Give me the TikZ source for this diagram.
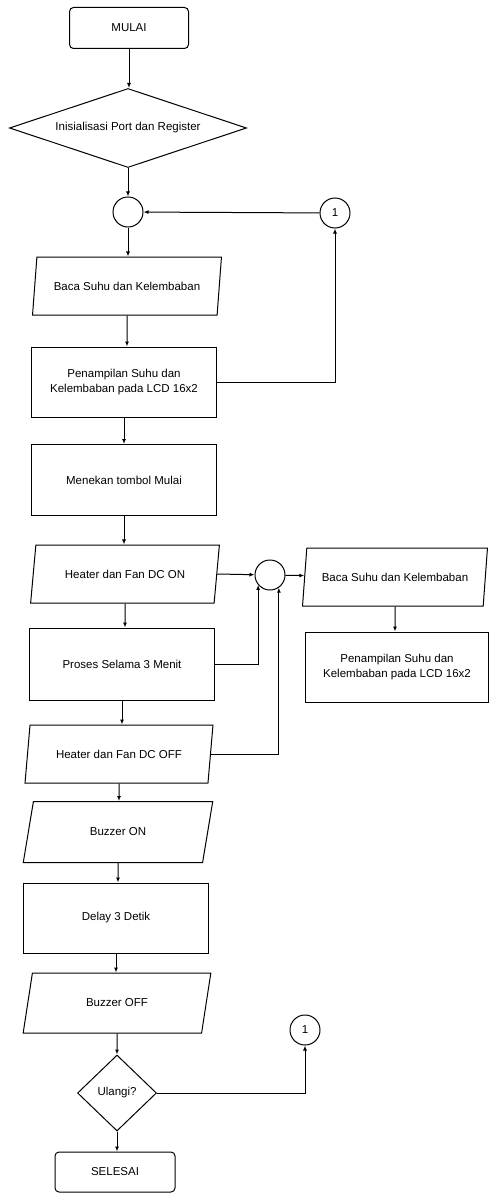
\documentclass[tikz,border=0pt]{standalone}
\usepackage{fontspec}
\setmainfont{Liberation Sans}
\usetikzlibrary{shapes.geometric,arrows.meta}

\tikzset{
  base/.style={draw,line width=1pt,align=center,inner sep=1pt,font=\fontsize{11.5}{15}\selectfont},
  terminal/.style={base,rectangle,rounded corners=4pt,minimum width=119,minimum height=41},
  process/.style={base,rectangle,minimum width=185,minimum height=70},
  io/.style={base,trapezium,trapezium left angle=71,trapezium right angle=109,
    trapezium stretches=true,minimum width=189,minimum height=58},
  decision/.style={base,diamond,inner sep=0pt,label={[font=\fontsize{11.5}{15}\selectfont]center:#1}},
  joint/.style={base,circle,minimum size=30,inner sep=0pt},
  arr/.style={line width=1pt,-{Latex[length=5pt,width=4pt]}}
}

\begin{document}
\begin{tikzpicture}[x=1pt,y=-1pt]
\useasboundingbox (0,0) rectangle (488,1193);

% main column
\node[terminal] (mulai) at (129,28) {MULAI};
\node[decision={Inisialisasi Port dan Register},minimum width=237,minimum height=79] (init) at (128,128) {};
\node[joint] (j1) at (128,212) {};
\node[joint] (c1) at (335,213) {1};
\node[io] (baca) at (127,286) {Baca Suhu dan Kelembaban};
\node[process] (tampil) at (124,382) {Penampilan Suhu dan\\Kelembaban pada LCD 16x2};
\node[process,minimum height=71] (tekan) at (124,480) {Menekan tombol Mulai};
\node[io] (heaton) at (125,574) {Heater dan Fan DC ON};
\node[process,minimum height=72] (proses) at (122,664) {Proses Selama 3 Menit};
\node[io,minimum width=188] (heatoff) at (119,754) {Heater dan Fan DC OFF};
\node[io,minimum width=190,minimum height=61] (buzon) at (118,832) {Buzzer ON};
\node[process] (delay) at (116,918) {Delay 3 Detik};
\node[io,minimum height=60] (buzoff) at (117,1003) {Buzzer OFF};
\node[decision={Ulangi?},minimum width=79,minimum height=76] (ulangi) at (117,1093) {};
\node[joint] (c2) at (305,1030) {1};
\node[terminal,minimum width=120,minimum height=40] (selesai) at (115,1172) {SELESAI};

% side branch
\node[joint] (j2) at (270,575) {};
\node[io,minimum width=185] (baca2) at (395,577) {Baca Suhu dan Kelembaban};
\node[process,minimum width=183] (tampil2) at (397,667) {Penampilan Suhu dan\\Kelembaban pada LCD 16x2};

% straight arrows
\foreach \a/\b in {mulai/init,init/j1,j1/baca,baca/tampil,tampil/tekan,tekan/heaton,
  heaton/proses,proses/heatoff,heatoff/buzon,buzon/delay,delay/buzoff,buzoff/ulangi,
  ulangi/selesai,baca2/tampil2}
  \draw[arr] (\a) -- (\a |- \b.north);

\draw[arr] (c1) -- (j1);
\draw[arr] (tampil.east) -| (c1);
\draw[arr] (heaton.east) -- (j2);
\draw[arr] (j2) -- (baca2);
\draw[arr] (proses.east) -| (j2.220);
\draw[arr] (heatoff.east) -| (j2.305);
\draw[arr] (ulangi.east) -| (c2);
\end{tikzpicture}
\end{document}
